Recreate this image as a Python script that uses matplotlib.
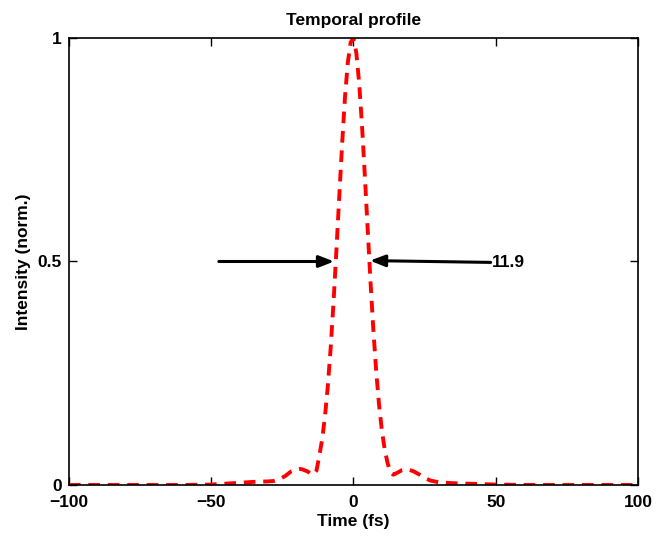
import matplotlib
matplotlib.use("Agg")
import matplotlib.pyplot as plt

# values
time_fs = [-100, -80, -60, -50, -45, -40, -35, -30, -28, -26, -24, -22, -20, -19, -18,
           -16, -15, -14, -13, -12, -11, -10, -9, -8, -7, -6, -5, -4, -3, -2, -1, 0,
           1, 2, 3, 4, 5, 6, 7, 8, 9, 10, 11, 12, 13, 14, 15, 17, 19, 21, 23, 25, 27,
           30, 35, 40, 45, 50, 60, 80, 100]
intensity = [0.0, 0.0, 0.0, 0.001, 0.003, 0.005, 0.007, 0.008, 0.009, 0.013, 0.020, 0.030, 0.035, 0.036, 0.035,
             0.030, 0.024, 0.024, 0.032, 0.065, 0.102, 0.154, 0.222, 0.307, 0.409, 0.524, 0.644, 0.761, 0.865, 0.944, 0.990, 1.0,
             0.967, 0.900, 0.805, 0.692, 0.572, 0.454, 0.346, 0.254, 0.179, 0.121, 0.079, 0.049, 0.028, 0.023, 0.026, 0.033, 0.035, 0.031, 0.024, 0.016, 0.010,
             0.006, 0.004, 0.003, 0.002, 0.001, 0.0, 0.0, 0.0]

fwhm = 11.9
half_left = -6.8
half_right = 5.8
xticks = [-100, -50, 0, 50, 100]
yticks = [0, 0.5, 1]

plt.rcParams['font.family'] = ['Liberation Sans', 'DejaVu Sans']
plt.rcParams['font.weight'] = 'bold'
fs = 12.5

fig = plt.figure(figsize=(6.56, 5.39), dpi=100)
ax = fig.add_axes([0.105, 0.1002, 0.8676, 0.8293])

ax.plot(time_fs, intensity, color='red', linestyle='--', linewidth=2.8, dashes=(3, 2))

# FWHM arrows
arrow_style = '-|>,head_length=0.9,head_width=0.35'
ax.annotate('', xy=(half_left, 0.5), xytext=(-47.3, 0.5),
            arrowprops=dict(arrowstyle=arrow_style, color='black', lw=2.2, shrinkA=0, shrinkB=0))
ax.annotate('', xy=(half_right, 0.502), xytext=(48.2, 0.498),
            arrowprops=dict(arrowstyle=arrow_style, color='black', lw=2.2, shrinkA=0, shrinkB=0))
ax.text(48.6, 0.497, f'{fwhm}', fontsize=fs, fontweight='bold', ha='left', va='center')

ax.set_xlim(-100, 100)
ax.set_ylim(0, 1)
ax.set_xticks(xticks)
ax.set_yticks(yticks)
ax.set_yticklabels(['0', '0.5', '1'])
ax.tick_params(direction='in', length=6, width=1, top=True, right=True, labelsize=fs)
ax.tick_params(axis='x', pad=7)
ax.tick_params(axis='y', pad=5)
for lab in ax.get_xticklabels() + ax.get_yticklabels():
    lab.set_fontweight('bold')
for s in ax.spines.values():
    s.set_linewidth(1.2)

ax.set_title('Temporal profile', fontsize=fs, fontweight='bold', pad=9)
ax.set_xlabel('Time (fs)', fontsize=fs, fontweight='bold', labelpad=3)
ax.set_ylabel('Intensity (norm.)', fontsize=fs, fontweight='bold', labelpad=5)

fig.savefig('out.png', dpi=100)
